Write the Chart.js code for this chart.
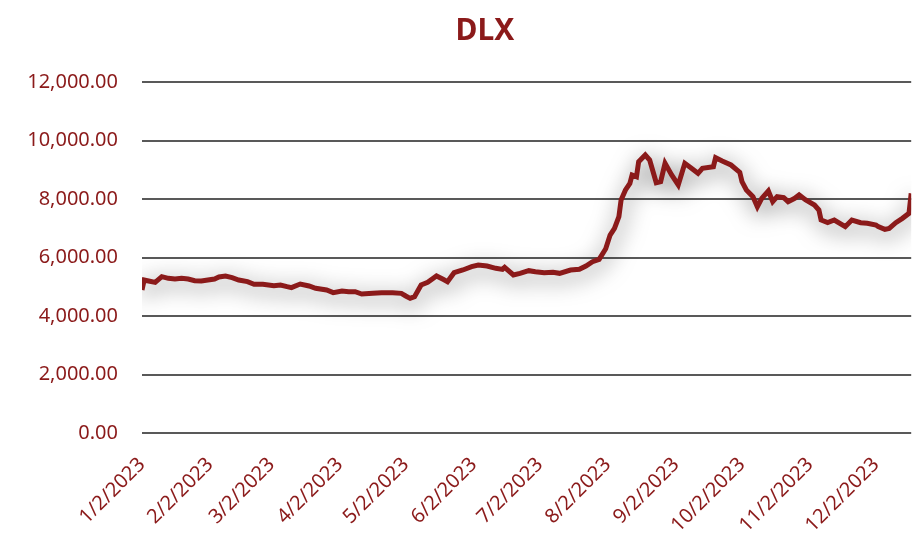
<!DOCTYPE html>
<html>
<head>
<meta charset="utf-8">
<script src="https://cdn.jsdelivr.net/npm/chart.js@4"></script>
<style>
  html, body { margin: 0; padding: 0; background: #fff; }
  #wrap { width: 913px; height: 536px; position: relative; }
</style>
</head>
<body>
<div id="wrap"><canvas id="dlxChart" width="913" height="536"></canvas></div>
<script>
// trading dates (2023) and closing values
var dates = ['01-02','01-03','01-05','01-08','01-11','01-14','01-17','01-20','01-23','01-26','01-29',
  '02-01','02-04','02-06','02-09','02-12','02-15','02-19','02-22','02-26',
  '03-03','03-06','03-09','03-11','03-15','03-19','03-22','03-27','03-30',
  '04-03','04-06','04-09','04-12','04-17','04-21','04-26','04-30',
  '05-02','05-04','05-06','05-09','05-12','05-16','05-19','05-21','05-24','05-28',
  '06-01','06-04','06-08','06-12','06-15','06-16','06-20','06-23','06-27','06-30',
  '07-04','07-08','07-11','07-16','07-20','07-23','07-26','07-29',
  '08-01','08-03','08-05','08-07','08-08','08-10','08-12','08-13','08-15','08-16','08-19','08-21','08-24','08-26','08-28','08-31',
  '09-03','09-06','09-09','09-12','09-14','09-19','09-20','09-23','09-27',
  '10-01','10-02','10-04','10-07','10-09','10-11','10-14','10-16','10-18','10-21','10-23','10-26','10-28','10-31',
  '11-04','11-06','11-07','11-10','11-13','11-18','11-21','11-25','11-28',
  '12-02','12-03','12-06','12-08','12-11','12-14','12-17','12-18'];

var prices = [4889,5231,5197,5150,5345,5288,5265,5288,5265,5208,5197,
  5231,5265,5333,5368,5310,5231,5174,5083,5083,
  5037,5060,5003,4970,5094,5026,4946,4889,4798,
  4855,4832,4832,4752,4775,4798,4798,4775,
  4684,4604,4661,5060,5151,5368,5254,5174,5481,5573,
  5687,5744,5709,5630,5595,5664,5402,5459,5550,5516,
  5481,5493,5459,5573,5595,5709,5857,5937,
  6300,6769,6997,7396,7966,8308,8535,8821,8763,9276,9504,9333,8558,8592,9219,8821,
  8479,9219,9048,8878,9048,9105,9413,9299,9162,
  8913,8592,8308,8080,7738,8023,8274,7909,8080,8046,7909,8023,8137,7966,
  7795,7624,7282,7191,7282,7054,7282,7191,7168,
  7111,7054,6963,6997,7191,7339,7510,8194];

var tickDates = ['01-02','02-02','03-02','04-02','05-02','06-02','07-02','08-02','09-02','10-02','11-02','12-02'];
var tickLabels = ['1/2/2023','2/2/2023','3/2/2023','4/2/2023','5/2/2023','6/2/2023',
  '7/2/2023','8/2/2023','9/2/2023','10/2/2023','11/2/2023','12/2/2023'];
var lastVisible = '12-18';

var red = '#8b1a1a';

function dayOffset(md) {
  var p = md.split('-');
  return (Date.UTC(2023, +p[0] - 1, +p[1]) - Date.UTC(2023, 0, 2)) / 86400000;
}

var points = dates.map(function(d, i) { return { x: dayOffset(d), y: prices[i] }; });
var tickPos = tickDates.map(dayOffset);

// soft grey glow under the line
var shadowPlugin = {
  id: 'lineShadow',
  beforeDatasetDraw: function(chart) {
    var ctx = chart.ctx;
    ctx.save();
    ctx.shadowColor = 'rgba(0,0,0,0.6)';
    ctx.shadowBlur = 22;
    ctx.shadowOffsetX = 2;
    ctx.shadowOffsetY = 5;
  },
  afterDatasetDraw: function(chart) {
    chart.ctx.restore();
  }
};

var titlePlugin = {
  id: 'offsetTitle',
  afterDraw: function(chart) {
    var ctx = chart.ctx;
    ctx.save();
    ctx.font = 'bold 30px "Noto Sans"';
    ctx.fillStyle = red;
    ctx.textAlign = 'center';
    ctx.textBaseline = 'alphabetic';
    ctx.fillText('DLX', 485, 40);
    ctx.restore();
  }
};

var ctx = document.getElementById('dlxChart').getContext('2d');
var chart = new Chart(ctx, {
  type: 'line',
  data: {
    datasets: [{
      label: 'DLX',
      data: points,
      borderColor: red,
      borderWidth: 5,
      pointRadius: 0,
      tension: 0,
      fill: false
    }]
  },
  options: {
    responsive: false,
    animation: false,
    layout: { padding: { top: 82, right: 0, bottom: 0, left: 0 } },
    plugins: {
      legend: { display: false },
      tooltip: { enabled: false },
      title: { display: false }
    },
    scales: {
      x: {
        type: 'linear',
        min: 0,
        max: dayOffset(lastVisible),
        grid: { display: false, drawTicks: false },
        border: { display: false },
        afterBuildTicks: function(scale) {
          scale.ticks = tickPos.map(function(v) { return { value: v }; });
        },
        afterFit: function(scale) { scale.height = 103; },
        ticks: {
          autoSkip: false,
          maxRotation: 45,
          minRotation: 45,
          padding: 20,
          color: red,
          font: { family: 'Noto Sans', size: 20 },
          callback: function(value) {
            var i = tickPos.indexOf(value);
            return i >= 0 ? tickLabels[i] : '';
          }
        }
      },
      y: {
        min: 0,
        max: 12000,
        grid: { color: '#595959', lineWidth: 2, drawTicks: false },
        border: { display: false },
        afterFit: function(scale) { scale.width = 142; },
        ticks: {
          stepSize: 2000,
          padding: 24,
          color: red,
          font: { family: 'Noto Sans', size: 20 },
          callback: function(value) {
            return value.toLocaleString('en-US', { minimumFractionDigits: 2, maximumFractionDigits: 2 });
          }
        }
      }
    }
  },
  plugins: [shadowPlugin, titlePlugin]
});
</script>
</body>
</html>
